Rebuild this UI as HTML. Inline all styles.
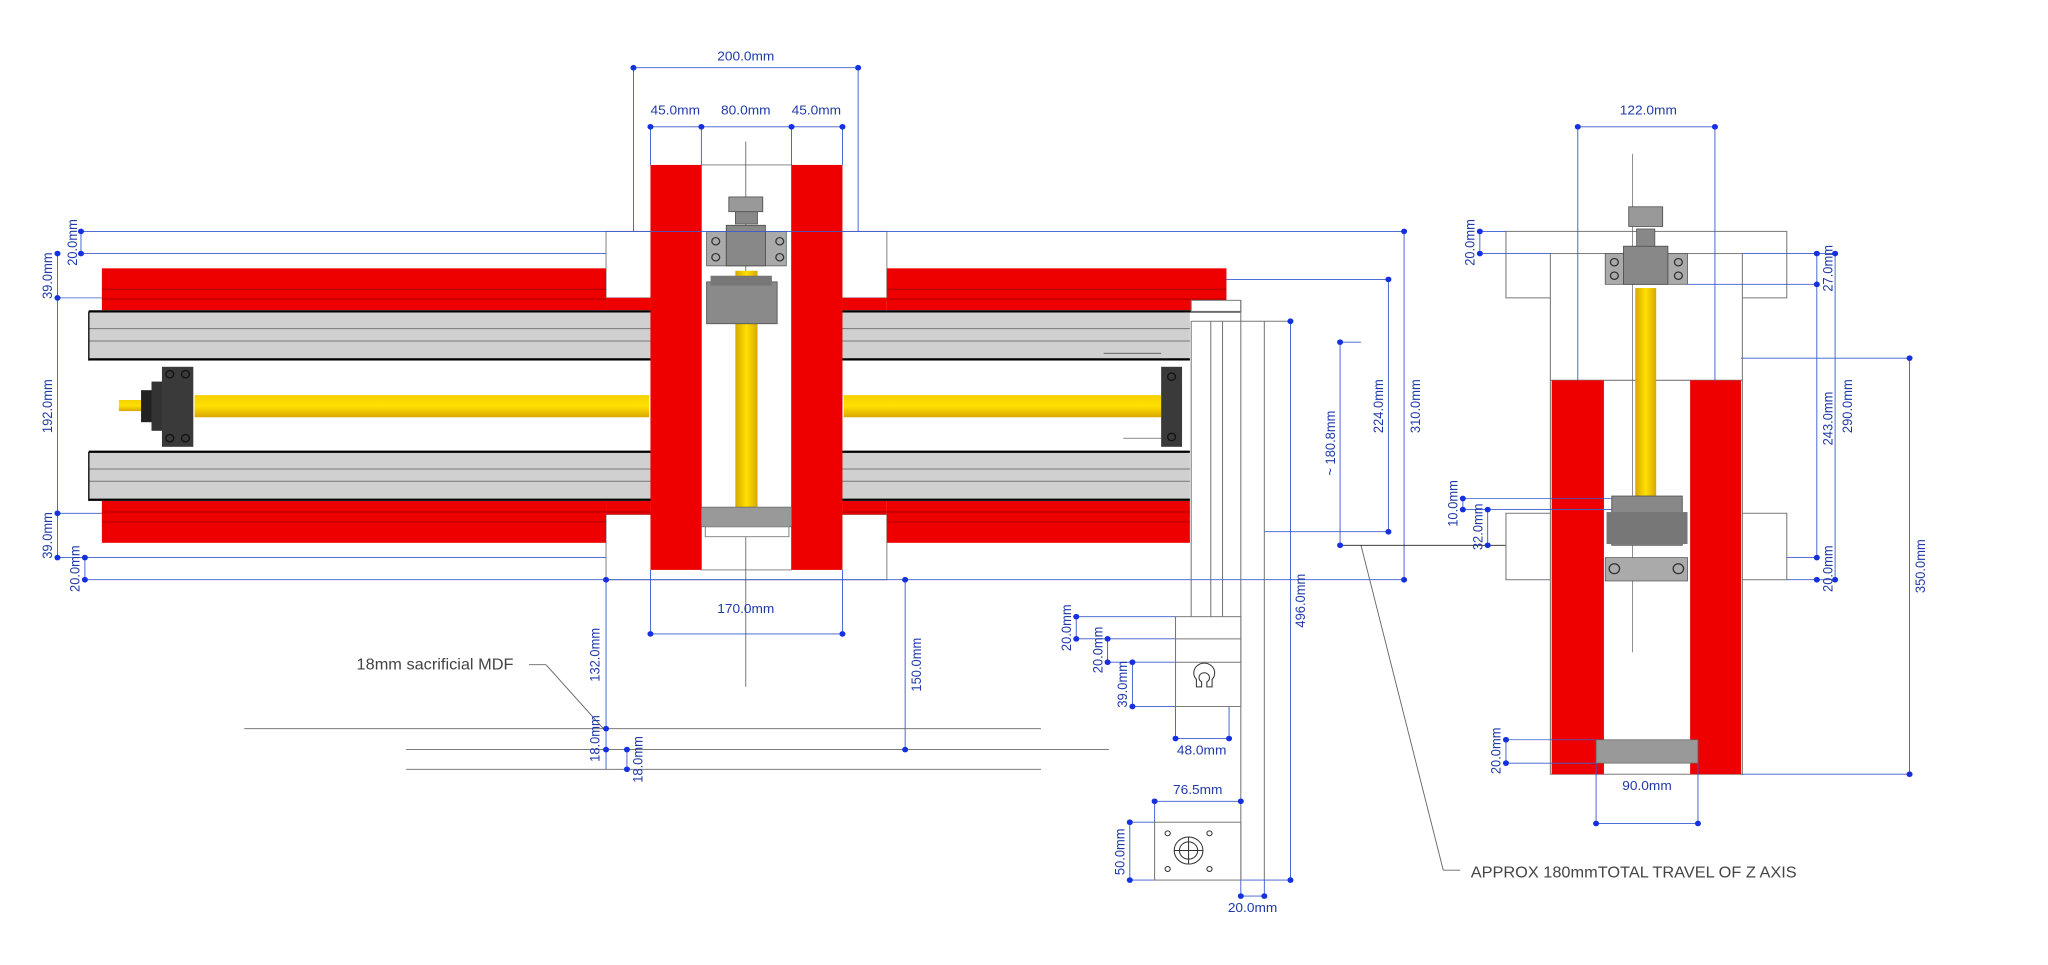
<!DOCTYPE html>
<html><head><meta charset="utf-8"><style>
html,body{margin:0;padding:0;background:#fff;}
svg{display:block}
text{font-family:"Liberation Sans",sans-serif;}
.d{fill:#1f3aa8;font-size:10.5px}
.dl{stroke:#3a5bd0;stroke-width:0.7;fill:none}
.ol{stroke:#888;stroke-width:0.8;fill:#fff}
.p{fill:#1530e0}
</style></head><body>
<svg width="2048" height="965" viewBox="0 0 1568 784" preserveAspectRatio="none" xmlns="http://www.w3.org/2000/svg">
<defs>
<linearGradient id="ys" x1="0" y1="0" x2="0" y2="1"><stop offset="0" stop-color="#f5d000"/><stop offset="0.5" stop-color="#ffe000"/><stop offset="1" stop-color="#d8a800"/></linearGradient>
<linearGradient id="yv" x1="0" y1="0" x2="1" y2="0"><stop offset="0" stop-color="#d8a800"/><stop offset="0.5" stop-color="#ffe000"/><stop offset="1" stop-color="#d8a800"/></linearGradient>
</defs>
<rect class="ol" x="464" y="188" width="215" height="54"/>
<rect class="ol" x="464" y="418" width="215" height="53"/>
<g>
<rect x="78" y="218" width="386" height="34" fill="#ee0000"/>
<rect x="679" y="218" width="260" height="34" fill="#ee0000"/>
<line x1="78" y1="235" x2="464" y2="235" stroke="#a00" stroke-width="0.8"/>
<line x1="78" y1="243" x2="498" y2="243" stroke="#a00" stroke-width="0.8"/>
<line x1="679" y1="235" x2="939" y2="235" stroke="#a00" stroke-width="0.8"/>
<line x1="645" y1="243" x2="939" y2="243" stroke="#a00" stroke-width="0.8"/>
<rect x="464" y="242" width="34" height="10" fill="#ee0000"/>
<rect x="645" y="242" width="34" height="10" fill="#ee0000"/>
<rect x="78" y="407" width="386" height="34" fill="#ee0000"/>
<rect x="679" y="407" width="232" height="34" fill="#ee0000"/>
<rect x="464" y="407" width="34" height="11" fill="#ee0000"/>
<rect x="645" y="407" width="34" height="11" fill="#ee0000"/>
<line x1="78" y1="416" x2="498" y2="416" stroke="#a00" stroke-width="0.8"/>
<line x1="78" y1="424" x2="464" y2="424" stroke="#a00" stroke-width="0.8"/>
<line x1="645" y1="416" x2="911" y2="416" stroke="#a00" stroke-width="0.8"/>
<line x1="679" y1="424" x2="911" y2="424" stroke="#a00" stroke-width="0.8"/>
</g>
<g>
<rect x="68" y="253" width="843" height="40" fill="#d0d0d0"/>
<line x1="68" y1="253" x2="950" y2="253" stroke="#000" stroke-width="1.8"/>
<line x1="68" y1="292" x2="911" y2="292" stroke="#000" stroke-width="1.8"/>
<line x1="68" y1="267" x2="911" y2="267" stroke="#777" stroke-width="0.8"/>
<line x1="68" y1="277" x2="911" y2="277" stroke="#777" stroke-width="0.8"/>
<line x1="68" y1="253" x2="68" y2="293" stroke="#000" stroke-width="1"/>
<rect x="68" y="367" width="843" height="40" fill="#d0d0d0"/>
<line x1="68" y1="367" x2="911" y2="367" stroke="#000" stroke-width="1.8"/>
<line x1="68" y1="406" x2="911" y2="406" stroke="#000" stroke-width="1.8"/>
<line x1="68" y1="381" x2="911" y2="381" stroke="#777" stroke-width="0.8"/>
<line x1="68" y1="391" x2="911" y2="391" stroke="#777" stroke-width="0.8"/>
<line x1="68" y1="367" x2="68" y2="407" stroke="#000" stroke-width="1"/>
</g>
<rect x="91" y="325" width="20" height="9" fill="url(#ys)"/>
<rect x="149" y="321" width="348" height="18" fill="url(#ys)"/>
<rect x="646" y="321" width="243" height="18" fill="url(#ys)"/>
<rect x="108" y="317" width="10" height="26" fill="#222"/>
<rect x="116" y="310" width="16" height="40" fill="#333"/>
<rect x="124" y="298" width="24" height="65" fill="#3a3a3a"/>
<circle cx="130" cy="304" r="3" fill="none" stroke="#111"/><circle cx="142" cy="304" r="3" fill="none" stroke="#111"/>
<circle cx="130" cy="356" r="3" fill="none" stroke="#111"/><circle cx="142" cy="356" r="3" fill="none" stroke="#111"/>
<rect x="889" y="298" width="16" height="65" fill="#3a3a3a"/>
<circle cx="897" cy="306" r="3" fill="none" stroke="#111"/><circle cx="897" cy="355" r="3" fill="none" stroke="#111"/>
<line x1="845" y1="287" x2="889" y2="287" stroke="#444" stroke-width="0.6"/>
<line x1="860" y1="356" x2="889" y2="356" stroke="#444" stroke-width="0.6"/>
<rect class="ol" x="537" y="134" width="69" height="329"/>
<line x1="571" y1="115" x2="571" y2="558" stroke="#555" stroke-width="0.6"/>
<rect x="563" y="220" width="17" height="195" fill="url(#yv)"/>
<rect x="541" y="229" width="54" height="34" fill="#8a8a8a" stroke="#555" stroke-width="0.7"/>
<rect x="544" y="224" width="47" height="8" fill="#777"/>
<rect x="541" y="188" width="61" height="28" fill="#aaa" stroke="#555" stroke-width="0.6"/>
<rect x="556" y="183" width="30" height="33" fill="#888" stroke="#444" stroke-width="0.6"/>
<circle cx="548" cy="196" r="3" fill="none" stroke="#333"/><circle cx="548" cy="209" r="3" fill="none" stroke="#333"/>
<circle cx="597" cy="196" r="3" fill="none" stroke="#333"/><circle cx="597" cy="209" r="3" fill="none" stroke="#333"/>
<rect x="563" y="172" width="17" height="10" fill="#888" stroke="#444" stroke-width="0.5"/>
<rect x="558" y="160" width="26" height="12" fill="#999" stroke="#444" stroke-width="0.6"/>
<rect x="532" y="412" width="78" height="16" fill="#999" stroke="#666" stroke-width="0.6"/>
<rect class="ol" x="540" y="428" width="64" height="8"/>
<rect x="498" y="134" width="39" height="329" fill="#ee0000"/>
<rect x="606" y="134" width="39" height="329" fill="#ee0000"/>
<g class="dl">
<line x1="485" y1="55" x2="657" y2="55"/><line x1="485" y1="55" x2="485" y2="188"/><line x1="657" y1="55" x2="657" y2="188"/>
<line x1="498" y1="103" x2="645" y2="103"/><line x1="498" y1="103" x2="498" y2="134"/><line x1="537" y1="103" x2="537" y2="134"/><line x1="606" y1="103" x2="606" y2="134"/><line x1="645" y1="103" x2="645" y2="134"/>
<line x1="62" y1="188" x2="1075" y2="188"/><line x1="62" y1="206" x2="464" y2="206"/>
<line x1="44" y1="206" x2="44" y2="453"/><line x1="44" y1="242" x2="78" y2="242"/><line x1="44" y1="417" x2="78" y2="417"/>
<line x1="62" y1="188" x2="62" y2="206"/>
<line x1="44" y1="453" x2="464" y2="453"/><line x1="65" y1="453" x2="65" y2="471"/><line x1="65" y1="471" x2="1075" y2="471"/>
<line x1="1075" y1="188" x2="1075" y2="471"/>
<line x1="939" y1="227" x2="1063" y2="227"/><line x1="1063" y1="227" x2="1063" y2="432"/><line x1="968" y1="432" x2="1063" y2="432"/>
<line x1="1026" y1="278" x2="1042" y2="278"/><line x1="1026" y1="278" x2="1026" y2="443"/>
<line x1="498" y1="463" x2="498" y2="515"/><line x1="645" y1="463" x2="645" y2="515"/><line x1="498" y1="515" x2="645" y2="515"/>
<line x1="464" y1="471" x2="464" y2="625"/><line x1="693" y1="471" x2="693" y2="609"/>
<line x1="480" y1="609" x2="480" y2="625"/>
<line x1="988" y1="261" x2="988" y2="715"/>
<line x1="824" y1="501" x2="900" y2="501"/><line x1="824" y1="501" x2="824" y2="519"/><line x1="824" y1="519" x2="950" y2="519"/>
<line x1="848" y1="519" x2="848" y2="538"/><line x1="848" y1="538" x2="950" y2="538"/>
<line x1="867" y1="538" x2="867" y2="574"/><line x1="867" y1="574" x2="900" y2="574"/>
<line x1="900" y1="574" x2="900" y2="600"/><line x1="941" y1="574" x2="941" y2="600"/><line x1="900" y1="600" x2="941" y2="600"/>
<line x1="884" y1="651" x2="950" y2="651"/><line x1="884" y1="651" x2="884" y2="668"/>
<line x1="865" y1="668" x2="884" y2="668"/><line x1="865" y1="668" x2="865" y2="715"/><line x1="865" y1="715" x2="988" y2="715"/>
<line x1="950" y1="715" x2="950" y2="728"/><line x1="968" y1="715" x2="968" y2="728"/><line x1="950" y1="728" x2="968" y2="728"/>
</g>
<g stroke="#666" stroke-width="0.7">
<line x1="187" y1="592" x2="797" y2="592"/><line x1="311" y1="609" x2="849" y2="609"/><line x1="311" y1="625" x2="797" y2="625"/>
<line x1="405" y1="540" x2="418" y2="540"/><line x1="418" y1="540" x2="462" y2="592"/>
<line x1="1042" y1="443" x2="1105" y2="707"/><line x1="1105" y1="707" x2="1118" y2="707"/>
<line x1="1026" y1="443" x2="1225" y2="443" stroke="#222"/>
</g>
<g stroke="#777" stroke-width="0.8" fill="none">
<rect x="912" y="244" width="38" height="9" fill="#fff"/>
<line x1="912" y1="261" x2="912" y2="501"/><line x1="927" y1="261" x2="927" y2="501"/><line x1="936" y1="261" x2="936" y2="501"/>
<line x1="950" y1="244" x2="950" y2="715"/><line x1="968" y1="261" x2="968" y2="715"/>
<line x1="912" y1="261" x2="988" y2="261"/>
<rect x="900" y="501" width="50" height="73" fill="#fff"/>
<line x1="900" y1="519" x2="950" y2="519"/><line x1="900" y1="538" x2="950" y2="538"/>
<path d="M916 552 a8 8 0 1 1 12 0 v6 h-4 v-4 a4 4 0 1 0 -4 0 v4 h-4z" stroke="#333"/>
<rect x="884" y="668" width="66" height="47" fill="#fff"/>
<circle cx="910" cy="691" r="11" stroke="#333"/><circle cx="910" cy="691" r="7" stroke="#333"/>
<line x1="899" y1="691" x2="921" y2="691" stroke="#333"/><line x1="910" y1="680" x2="910" y2="702" stroke="#333"/>
<circle cx="894" cy="677" r="2" stroke="#333"/><circle cx="926" cy="677" r="2" stroke="#333"/><circle cx="894" cy="706" r="2" stroke="#333"/><circle cx="926" cy="706" r="2" stroke="#333"/>
</g>
<g stroke="#777" stroke-width="0.8" fill="#fff">
<rect x="1153" y="188" width="215" height="54"/>
<rect x="1187" y="206" width="147" height="103"/>
<rect x="1153" y="417" width="215" height="54"/>
<rect x="1187" y="309" width="147" height="320"/>
<line x1="1250" y1="125" x2="1250" y2="530" stroke="#555" stroke-width="0.5"/>
</g>
<rect x="1188" y="309" width="40" height="320" fill="#ee0000"/>
<rect x="1294" y="309" width="39" height="320" fill="#ee0000"/>
<rect x="1252" y="234" width="16" height="196" fill="url(#yv)"/>
<rect x="1234" y="403" width="54" height="40" fill="#888" stroke="#555" stroke-width="0.7"/>
<rect x="1230" y="416" width="62" height="26" fill="#777"/>
<rect x="1229" y="453" width="63" height="19" fill="#aaa" stroke="#555" stroke-width="0.6"/>
<circle cx="1236" cy="462" r="4" fill="none" stroke="#333"/><circle cx="1285" cy="462" r="4" fill="none" stroke="#333"/>
<rect x="1229" y="206" width="63" height="25" fill="#aaa" stroke="#555" stroke-width="0.6"/>
<rect x="1243" y="200" width="34" height="31" fill="#888" stroke="#444" stroke-width="0.6"/>
<circle cx="1236" cy="213" r="3" fill="none" stroke="#333"/><circle cx="1236" cy="224" r="3" fill="none" stroke="#333"/>
<circle cx="1285" cy="213" r="3" fill="none" stroke="#333"/><circle cx="1285" cy="224" r="3" fill="none" stroke="#333"/>
<rect x="1253" y="186" width="14" height="14" fill="#888" stroke="#444" stroke-width="0.5"/>
<rect x="1247" y="168" width="26" height="16" fill="#999" stroke="#444" stroke-width="0.6"/>
<rect x="1222" y="601" width="78" height="19" fill="#999" stroke="#666" stroke-width="0.6"/>
<g class="dl">
<line x1="1208" y1="103" x2="1313" y2="103"/><line x1="1208" y1="103" x2="1208" y2="309"/><line x1="1313" y1="103" x2="1313" y2="309"/>
<line x1="1133" y1="188" x2="1153" y2="188"/><line x1="1133" y1="188" x2="1133" y2="206"/><line x1="1133" y1="206" x2="1187" y2="206"/>
<line x1="1334" y1="206" x2="1405" y2="206"/><line x1="1292" y1="231" x2="1391" y2="231"/>
<line x1="1391" y1="206" x2="1391" y2="453"/><line x1="1405" y1="206" x2="1405" y2="471"/>
<line x1="1368" y1="453" x2="1391" y2="453"/><line x1="1368" y1="471" x2="1405" y2="471"/>
<line x1="1333" y1="291" x2="1462" y2="291"/><line x1="1462" y1="291" x2="1462" y2="629"/><line x1="1333" y1="629" x2="1462" y2="629"/>
<line x1="1120" y1="405" x2="1234" y2="405"/><line x1="1120" y1="405" x2="1120" y2="414"/><line x1="1120" y1="414" x2="1234" y2="414"/>
<line x1="1139" y1="414" x2="1139" y2="443"/>
<line x1="1153" y1="601" x2="1222" y2="601"/><line x1="1153" y1="601" x2="1153" y2="620"/><line x1="1153" y1="620" x2="1222" y2="620"/>
<line x1="1222" y1="620" x2="1222" y2="669"/><line x1="1300" y1="620" x2="1300" y2="669"/><line x1="1222" y1="669" x2="1300" y2="669"/>
</g>
<g class="p">
<circle cx="485" cy="55" r="2.3"/><circle cx="657" cy="55" r="2.3"/>
<circle cx="498" cy="103" r="2.3"/><circle cx="537" cy="103" r="2.3"/><circle cx="606" cy="103" r="2.3"/><circle cx="645" cy="103" r="2.3"/>
<circle cx="62" cy="188" r="2.3"/><circle cx="62" cy="206" r="2.3"/><circle cx="44" cy="206" r="2.3"/><circle cx="44" cy="242" r="2.3"/><circle cx="44" cy="417" r="2.3"/><circle cx="44" cy="453" r="2.3"/>
<circle cx="65" cy="453" r="2.3"/><circle cx="65" cy="471" r="2.3"/>
<circle cx="1075" cy="188" r="2.3"/><circle cx="1075" cy="471" r="2.3"/><circle cx="1063" cy="227" r="2.3"/><circle cx="1063" cy="432" r="2.3"/>
<circle cx="1026" cy="278" r="2.3"/><circle cx="1026" cy="443" r="2.3"/>
<circle cx="498" cy="515" r="2.3"/><circle cx="645" cy="515" r="2.3"/>
<circle cx="464" cy="471" r="2.3"/><circle cx="464" cy="592" r="2.3"/><circle cx="464" cy="609" r="2.3"/><circle cx="480" cy="609" r="2.3"/><circle cx="480" cy="625" r="2.3"/>
<circle cx="693" cy="471" r="2.3"/><circle cx="693" cy="609" r="2.3"/>
<circle cx="988" cy="261" r="2.3"/><circle cx="988" cy="715" r="2.3"/>
<circle cx="824" cy="501" r="2.3"/><circle cx="824" cy="519" r="2.3"/><circle cx="848" cy="519" r="2.3"/><circle cx="848" cy="538" r="2.3"/><circle cx="867" cy="538" r="2.3"/><circle cx="867" cy="574" r="2.3"/>
<circle cx="900" cy="600" r="2.3"/><circle cx="941" cy="600" r="2.3"/><circle cx="884" cy="651" r="2.3"/><circle cx="950" cy="651" r="2.3"/>
<circle cx="865" cy="668" r="2.3"/><circle cx="865" cy="715" r="2.3"/><circle cx="950" cy="728" r="2.3"/><circle cx="968" cy="728" r="2.3"/>
<circle cx="1208" cy="103" r="2.3"/><circle cx="1313" cy="103" r="2.3"/><circle cx="1133" cy="188" r="2.3"/><circle cx="1133" cy="206" r="2.3"/>
<circle cx="1391" cy="206" r="2.3"/><circle cx="1405" cy="206" r="2.3"/><circle cx="1391" cy="231" r="2.3"/><circle cx="1391" cy="453" r="2.3"/><circle cx="1405" cy="471" r="2.3"/><circle cx="1391" cy="471" r="2.3"/>
<circle cx="1462" cy="291" r="2.3"/><circle cx="1462" cy="629" r="2.3"/>
<circle cx="1120" cy="405" r="2.3"/><circle cx="1120" cy="414" r="2.3"/><circle cx="1139" cy="414" r="2.3"/><circle cx="1139" cy="443" r="2.3"/>
<circle cx="1153" cy="601" r="2.3"/><circle cx="1153" cy="620" r="2.3"/><circle cx="1222" cy="669" r="2.3"/><circle cx="1300" cy="669" r="2.3"/>
</g>
<g class="d">
<text x="571" y="49" text-anchor="middle">200.0mm</text>
<text x="517" y="93" text-anchor="middle">45.0mm</text>
<text x="571" y="93" text-anchor="middle">80.0mm</text>
<text x="625" y="93" text-anchor="middle">45.0mm</text>
<text x="571" y="498" text-anchor="middle">170.0mm</text>
<text x="1262" y="93" text-anchor="middle">122.0mm</text>
<text x="1261" y="642" text-anchor="middle">90.0mm</text>
<text x="920" y="613" text-anchor="middle">48.0mm</text>
<text x="917" y="645" text-anchor="middle">76.5mm</text>
<text x="959" y="741" text-anchor="middle">20.0mm</text>
<text transform="translate(59,197) rotate(-90)" text-anchor="middle">20.0mm</text>
<text transform="translate(40,224) rotate(-90)" text-anchor="middle">39.0mm</text>
<text transform="translate(40,330) rotate(-90)" text-anchor="middle">192.0mm</text>
<text transform="translate(40,435) rotate(-90)" text-anchor="middle">39.0mm</text>
<text transform="translate(61,462) rotate(-90)" text-anchor="middle">20.0mm</text>
<text transform="translate(459,532) rotate(-90)" text-anchor="middle">132.0mm</text>
<text transform="translate(459,600) rotate(-90)" text-anchor="middle">18.0mm</text>
<text transform="translate(492,617) rotate(-90)" text-anchor="middle">18.0mm</text>
<text transform="translate(705,540) rotate(-90)" text-anchor="middle">150.0mm</text>
<text transform="translate(1022,360) rotate(-90)" text-anchor="middle">~ 180.8mm</text>
<text transform="translate(1059,330) rotate(-90)" text-anchor="middle">224.0mm</text>
<text transform="translate(1087,330) rotate(-90)" text-anchor="middle">310.0mm</text>
<text transform="translate(999,488) rotate(-90)" text-anchor="middle">496.0mm</text>
<text transform="translate(820,510) rotate(-90)" text-anchor="middle">20.0mm</text>
<text transform="translate(844,528) rotate(-90)" text-anchor="middle">20.0mm</text>
<text transform="translate(863,556) rotate(-90)" text-anchor="middle">39.0mm</text>
<text transform="translate(861,692) rotate(-90)" text-anchor="middle">50.0mm</text>
<text transform="translate(1129,197) rotate(-90)" text-anchor="middle">20.0mm</text>
<text transform="translate(1403,218) rotate(-90)" text-anchor="middle">27.0mm</text>
<text transform="translate(1403,340) rotate(-90)" text-anchor="middle">243.0mm</text>
<text transform="translate(1418,330) rotate(-90)" text-anchor="middle">290.0mm</text>
<text transform="translate(1403,462) rotate(-90)" text-anchor="middle">20.0mm</text>
<text transform="translate(1474,460) rotate(-90)" text-anchor="middle">350.0mm</text>
<text transform="translate(1116,409) rotate(-90)" text-anchor="middle">10.0mm</text>
<text transform="translate(1135,428) rotate(-90)" text-anchor="middle">32.0mm</text>
<text transform="translate(1149,610) rotate(-90)" text-anchor="middle">20.0mm</text>
</g>
<text x="273" y="544" font-size="12.5" fill="#444">18mm sacrificial MDF</text>
<text x="1126" y="713" font-size="12.5" fill="#444">APPROX 180mmTOTAL TRAVEL OF Z AXIS</text>
</svg>
</body></html>
